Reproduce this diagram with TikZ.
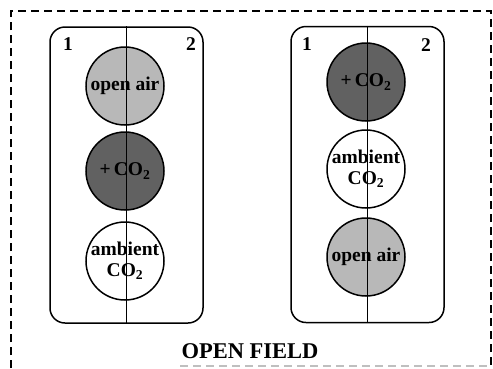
\documentclass[tikz,border=0pt]{standalone}
\usepackage{fontspec}
\setmainfont{Liberation Serif}
\begin{document}
\begin{tikzpicture}[x=1pt,y=-1pt,
  plot/.style={draw, line width=1.5pt, rounded corners=15pt, minimum width=153pt, minimum height=296pt, inner sep=0pt},
  ring/.style={circle, draw, line width=1.5pt, minimum size=78pt, inner sep=0pt},
  light/.style={ring, fill=black!28},
  dark/.style={ring, fill=black!62},
  plain/.style={ring, fill=white},
  lbl/.style={font=\fontsize{19.5}{21}\selectfont\bfseries, align=center, inner sep=0pt},
  num/.style={font=\fontsize{19.5}{21}\selectfont\bfseries, inner sep=0pt},
  divider/.style={line width=1.5pt}]
\useasboundingbox (0,0) rectangle (493,368);

% dashed field boundary
\draw[line width=1.5pt, dash pattern=on 8pt off 5pt] (11,368) -- (11,11) -- (491,11) -- (491,368);
\draw[black!25, line width=1.3pt, dash pattern=on 8pt off 5pt] (180,366) -- (491,366);

% left plot
\node[plot] (L) at (126.5,175) {};
\node[light] (L1) at (125,86) {};
\node[dark] (L2) at (125,171) {};
\node[plain] (L3) at (125,261) {};
\draw[divider] (L.north) -- (L.south);
\node[lbl] at (L1) {open air};
\node[lbl] at (L2) {+\,CO\textsubscript{2}};
\node[lbl] at (L3) {ambient\\CO\textsubscript{2}};
\node[num] (L1n) at (68,44) {1};
\node[num] (L2n) at (191,44) {2};

% right plot
\node[plot] (R) at (367.5,174.5) {};
\node[dark] (R1) at (366,82) {};
\node[plain] (R2) at (366,169) {};
\node[light] (R3) at (366,257) {};
\draw[divider] (R.north) -- (R.south);
\node[lbl] at (R1) {+\,CO\textsubscript{2}};
\node[lbl] at (R2) {ambient\\CO\textsubscript{2}};
\node[lbl] at (R3) {open air};
\node[num] (R1n) at (307,44) {1};
\node[num] (R2n) at (426,45) {2};

% caption
\node[font=\fontsize{22.5}{26}\selectfont\bfseries] (title) at (250,351) {OPEN FIELD};
\end{tikzpicture}
\end{document}
